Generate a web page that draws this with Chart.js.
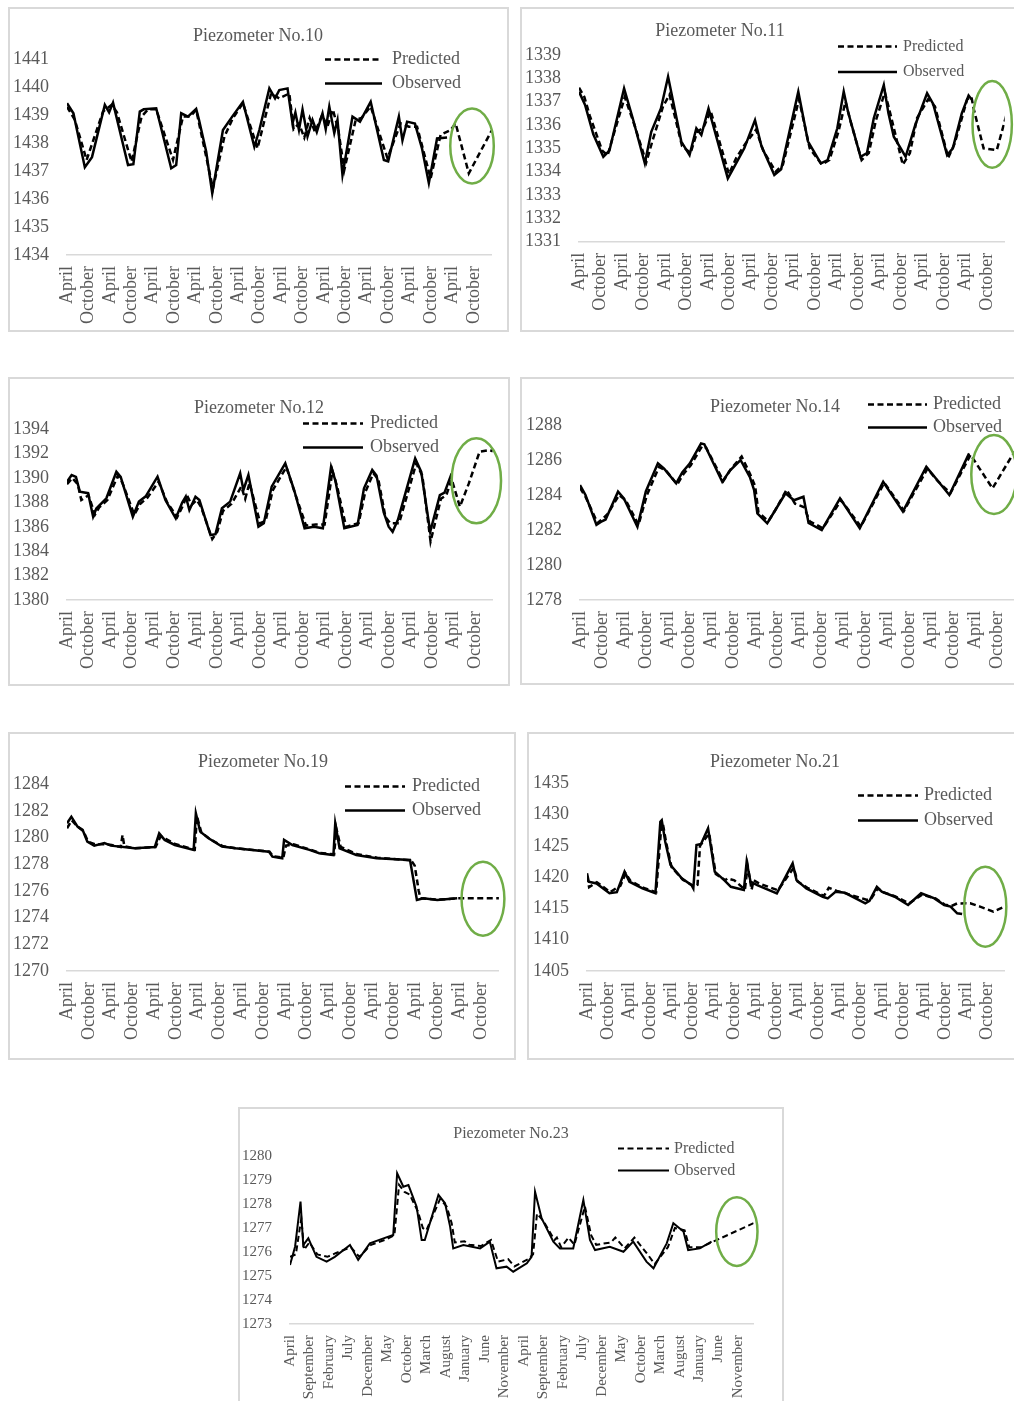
<!DOCTYPE html>
<html lang="en">
<head>
<meta charset="UTF-8">
<title>Piezometers - predicted vs observed</title>
<script src="https://cdn.jsdelivr.net/npm/chart.js@4"></script>
<style>
  html, body { margin: 0; padding: 0; background: #fff; overflow: hidden; }
  body { width: 1014px; height: 1401px; position: relative; }
  .panel { position: absolute; border: 2px solid #d9d9d9; box-sizing: border-box; background: #fff; }
  .panel canvas { display: block; }
</style>
</head>
<body>
<script>
// tick labels
const aprOct = ['April', 'October', 'April', 'October', 'April', 'October', 'April', 'October', 'April', 'October',
  'April', 'October', 'April', 'October', 'April', 'October', 'April', 'October', 'April', 'October']
const every5 = ['April', 'September', 'February', 'July', 'December', 'May', 'October', 'March', 'August', 'January', 'June', 'November',
  'April', 'September', 'February', 'July', 'December', 'May', 'October', 'March', 'August', 'January', 'June', 'November']

// [month index, water level]
const obs10 = [[0,1439.43],[1.8,1439.07],[5,1437.14],[7,1437.5],[10.6,1439.37],[11.8,1439.1],[12.9,1439.45],[17.1,1437.22],[18.6,1437.25],[20.4,1439.13],[21.5,1439.21],[25,1439.25],[29.2,1437.1],[30.6,1437.22],[32,1439.07],[33.9,1438.95],[36.2,1439.23],[37,1438.83],[39,1437.7],[40.7,1436.21],[43.7,1438.47],[46.3,1438.95],[49.3,1439.48],[52.5,1437.87],[53.9,1438.47],[56.7,1439.96],[58.3,1439.6],[59.5,1439.9],[61.8,1439.96],[63.2,1438.71],[64,1439.1],[65,1438.47],[66,1439.2],[67.4,1438.24],[68.8,1438.83],[70,1438.4],[71.6,1439.07],[72.5,1438.5],[73.5,1439.31],[74.9,1438.36],[75.8,1438.83],[77.2,1436.86],[80,1438.95],[82.1,1438.77],[85.1,1439.48],[88.8,1437.4],[90,1437.35],[93,1438.95],[94,1438.1],[95.3,1438.77],[97.5,1438.7],[99.5,1437.8],[101.4,1436.57],[103.7,1438.17],[106.5,1438.2]]
const pred10 = [[0,1439.3],[2.2,1438.83],[5.5,1437.4],[10.1,1439.13],[12.5,1439.37],[14,1439.1],[18.1,1437.34],[20.9,1438.95],[22.7,1439.21],[25,1439.21],[29.7,1437.4],[32.5,1438.95],[34.5,1438.95],[36.2,1439.19],[40.9,1436.38],[44.1,1438.23],[46.5,1438.9],[49.3,1439.43],[53.4,1437.82],[57.2,1439.78],[59.5,1439.6],[62.3,1439.78],[63.5,1438.5],[65,1438.7],[66.5,1438.2],[68,1438.9],[69.5,1438.4],[71.5,1439.0],[73,1438.6],[74.5,1439.2],[76,1438.5],[77.7,1437.04],[80.9,1438.83],[82.5,1438.9],[85.1,1439.31],[89.8,1437.46],[93.5,1438.71],[95.8,1438.59],[98.1,1438.59],[101.9,1436.74],[104.7,1438.3],[107.5,1438.47],[108.9,1438.71],[112.6,1436.92],[119,1438.45]]

const obs11 = [[0,1337.43],[1.7,1336.86],[4,1335.6],[6.8,1334.64],[8.5,1334.9],[12.6,1337.57],[15,1336.3],[18.4,1334.36],[20.2,1335.71],[22.9,1336.71],[24.9,1338.07],[28.6,1335.29],[30.9,1334.71],[32.8,1335.86],[34.2,1335.57],[36.2,1336.71],[41.6,1333.71],[43,1334.1],[46.2,1335.0],[49.2,1336.21],[51,1335.1],[54.6,1333.86],[56.5,1334.1],[61.3,1337.43],[64,1335.3],[67.6,1334.36],[69.5,1334.5],[72.2,1335.86],[74,1337.43],[75.2,1336.57],[78.7,1334.64],[80.5,1334.8],[82.4,1336.29],[85.2,1337.71],[86.5,1336.5],[88,1335.5],[91.3,1334.64],[94,1336.0],[97.3,1337.36],[99,1336.9],[102.9,1334.71],[104.5,1335.0],[107,1336.5],[108.9,1337.26],[109.7,1337.1]]
const pred11 = [[0,1337.6],[1.5,1337.2],[3,1336.4],[6.5,1334.9],[8,1334.7],[9.5,1335.5],[12.8,1337.2],[15.5,1336.0],[18.8,1334.4],[20.5,1335.3],[23.5,1336.8],[25.3,1337.3],[28.8,1335.1],[31.2,1334.8],[33,1335.7],[34.8,1335.9],[36.8,1336.6],[41.9,1333.9],[44,1334.6],[46.5,1335.2],[49.5,1335.8],[51.5,1334.9],[55,1334.0],[57,1334.3],[61.5,1337.1],[64.5,1335.0],[67.9,1334.3],[70,1334.5],[72.5,1335.7],[74.5,1337.0],[76,1336.1],[79,1334.5],[81,1334.8],[83,1336.2],[85.5,1337.4],[87,1336.5],[90.5,1334.3],[92.5,1334.8],[94.5,1336.3],[97.6,1337.1],[99.5,1336.8],[103.2,1334.6],[105,1335.2],[108.5,1337.1],[109.7,1337.2],[110.3,1336.71],[113.1,1335.0],[116.8,1334.93],[119.6,1336.5]]

const obs12 = [[0,1389.7],[1.3,1390.25],[2.5,1390.1],[3.6,1388.88],[5.9,1388.76],[7.3,1386.83],[8.2,1387.5],[11,1388.34],[13.8,1390.52],[15,1390.1],[18.4,1386.83],[20.1,1388.07],[22,1388.5],[25.3,1390.11],[27.5,1388.2],[30.4,1386.7],[32.2,1388.0],[33.2,1388.5],[34.2,1387.38],[35.9,1388.47],[37,1388.2],[40.1,1385.33],[41.5,1385.4],[43.3,1387.52],[45.6,1388.07],[48.4,1390.39],[49.3,1389.02],[50.7,1390.25],[53.5,1386.01],[55,1386.3],[57.2,1389.3],[61,1391.21],[63.5,1389.0],[66.4,1385.88],[69,1386.0],[71.5,1385.88],[73.8,1390.93],[75,1389.8],[77.5,1385.88],[81.2,1386.15],[83,1389.16],[85.3,1390.66],[86.5,1390.2],[88.5,1387.2],[89.9,1386.01],[91,1385.6],[92.5,1386.6],[97.3,1391.62],[99,1390.5],[101.5,1385.6],[104.2,1388.6],[105.5,1388.8],[107.5,1390.39]]
const pred12 = [[0,1389.5],[1.5,1390.0],[3,1389.5],[4,1388.2],[6,1388.6],[7.8,1387.0],[9,1387.6],[11.3,1388.2],[14.2,1390.2],[15.5,1389.6],[18.8,1387.0],[20.5,1387.9],[22.5,1388.4],[25.6,1389.7],[28,1388.0],[30.8,1386.8],[32.5,1387.8],[33.5,1388.6],[34.8,1387.8],[36.3,1388.2],[37.5,1387.6],[40.6,1385.0],[42,1385.6],[43.6,1387.3],[46,1387.9],[48.7,1389.3],[49.8,1388.3],[51,1389.6],[54,1386.3],[55.5,1386.5],[57.5,1389.0],[61.3,1390.9],[64,1388.5],[66.8,1386.1],[69.5,1386.2],[72,1386.2],[74.2,1390.6],[75.5,1389.3],[78,1386.0],[81.5,1386.3],[83.3,1388.8],[85.6,1390.4],[87,1389.9],[89,1386.8],[90.3,1386.3],[92.8,1386.3],[97.6,1391.2],[99.3,1390.2],[101.6,1384.8],[104.5,1388.3],[106,1388.6],[107.5,1389.9],[109.8,1387.65],[112.3,1389.56],[115.3,1392.16],[118.1,1392.3],[119,1392.2]]

const obs14 = [[0,1284.57],[1.5,1284.0],[4.5,1282.29],[6,1282.5],[7,1282.6],[10.4,1284.19],[12,1283.8],[15.7,1282.19],[18,1284.2],[21.3,1285.81],[23,1285.5],[26.3,1284.67],[28,1285.3],[30,1285.8],[33.1,1286.95],[34,1286.9],[38.9,1284.76],[41,1285.4],[43.9,1286.0],[46.5,1285.0],[47.6,1284.29],[48.5,1282.95],[51.2,1282.38],[53,1283.0],[56.2,1284.1],[58.5,1283.7],[61.1,1283.9],[62.5,1282.4],[66.1,1282.0],[71.1,1283.81],[76.5,1282.1],[82.9,1284.76],[88.3,1283.05],[94.7,1285.62],[97.5,1284.9],[101,1284.0],[106.4,1286.38]]
const pred14 = [[0,1284.4],[1.5,1283.9],[4.8,1282.4],[6.5,1282.7],[7.5,1282.9],[10.7,1284.0],[12.5,1283.7],[16,1282.3],[18.3,1284.0],[21.6,1285.6],[23.5,1285.4],[26.6,1284.6],[28.3,1285.2],[30.3,1285.7],[33.4,1286.8],[34.5,1286.7],[39.2,1284.8],[41.3,1285.5],[44.2,1286.2],[46.5,1285.2],[47.9,1284.5],[48.8,1283.0],[51.5,1282.5],[53.3,1283.1],[56.5,1284.3],[58.8,1283.5],[61.3,1283.3],[62.8,1282.5],[66.4,1282.1],[71.4,1283.7],[76.8,1282.2],[83.2,1284.7],[88.6,1283.1],[95,1285.5],[97.8,1284.8],[101.3,1284.1],[106.8,1286.3],[112.8,1284.38],[118,1286.2],[119,1286.5]]

const obs19 = [[0,1281.07],[1.2,1281.57],[2.9,1280.83],[4.3,1280.58],[5.6,1279.7],[7.5,1279.4],[10.3,1279.6],[12.1,1279.4],[18.6,1279.2],[24.2,1279.3],[25.4,1280.32],[26.9,1279.83],[29.7,1279.45],[34.9,1279.08],[35.5,1281.82],[36.7,1280.45],[39,1279.95],[42.7,1279.33],[46.4,1279.2],[55.6,1278.95],[56.6,1278.57],[59.3,1278.45],[59.8,1279.83],[62.1,1279.45],[66.8,1279.08],[69.5,1278.83],[73.4,1278.7],[73.9,1281.07],[75.1,1279.2],[79.7,1278.7],[85.3,1278.45],[94.5,1278.33],[96.4,1275.32],[98.2,1275.45],[102,1275.32],[107.5,1275.45]]
const pred19 = [[0,1280.7],[1.3,1281.3],[3,1280.8],[4.5,1280.5],[5.8,1279.7],[7.7,1279.5],[10.5,1279.5],[12.3,1279.45],[14.8,1279.3],[15.3,1280.2],[15.8,1279.35],[18.8,1279.2],[24.4,1279.3],[25.8,1280.1],[27.2,1279.9],[30,1279.5],[35.2,1279.1],[35.8,1281.6],[37,1280.4],[39.3,1279.9],[43,1279.35],[46.7,1279.2],[55.8,1278.95],[56.8,1278.6],[59.6,1278.5],[60.3,1279.4],[62.4,1279.5],[67,1279.1],[69.8,1278.85],[73.6,1278.75],[74.2,1280.7],[75.4,1279.3],[80,1278.75],[85.5,1278.5],[94.8,1278.3],[95.8,1277.9],[96.9,1276.0],[97.4,1275.45],[102.2,1275.35],[107.5,1275.45],[113,1275.45],[119,1275.45]]

const obs21 = [[0,1420.62],[0.5,1419.27],[2.7,1419.0],[6.4,1417.42],[8.5,1417.6],[10.7,1420.87],[12.1,1419.27],[15.8,1418.2],[19.5,1417.42],[20.9,1428.86],[21.3,1429.1],[22.3,1425.67],[23.8,1421.94],[27,1419.8],[29.8,1418.73],[30.3,1418.2],[31.2,1425.14],[32.5,1425.3],[34.5,1427.81],[36.4,1420.87],[39.1,1419.53],[41,1418.46],[44.7,1417.95],[45.5,1422.47],[46.6,1419.27],[48.5,1418.73],[54.1,1417.42],[58.6,1422.21],[59.7,1419.53],[62.5,1418.2],[67.2,1416.87],[68.6,1416.6],[70.9,1417.68],[73.5,1417.5],[79.3,1415.82],[80.5,1416.2],[82.6,1418.47],[84,1417.68],[87.7,1416.87],[91.5,1415.55],[95.2,1417.42],[99,1416.6],[101.8,1415.55],[103.6,1415.29],[105.5,1414.22],[106.9,1414.1]]
const pred21 = [[0,1420.2],[0.6,1418.4],[2.8,1419.2],[6.6,1417.6],[8.5,1418.3],[9.5,1418.6],[11,1420.6],[12.4,1419.4],[16,1418.3],[19.7,1417.6],[21.2,1428.3],[21.6,1428.6],[22.6,1425.4],[24.1,1421.6],[27.3,1419.6],[30.6,1418.5],[31.5,1418.8],[32.2,1425.0],[34.8,1427.0],[36.7,1420.5],[39.4,1419.5],[40,1419.8],[42,1419.5],[45,1418.0],[45.8,1421.8],[46.9,1418.0],[47.5,1419.5],[49,1419.0],[54.4,1417.9],[58.9,1421.5],[60,1419.3],[62.8,1418.3],[66,1417.4],[67.5,1417.0],[68.9,1418.3],[71.2,1417.8],[73.8,1417.4],[79.6,1416.4],[80.8,1416.4],[82.9,1418.2],[84.3,1417.6],[88,1416.9],[91.8,1415.8],[95.5,1417.2],[99.3,1416.6],[102,1415.6],[103.9,1415.4],[105.5,1415.8],[109.2,1415.82],[112,1415.29],[115.8,1414.5],[119,1415.29]]

const obs23 = [[0,1275.46],[1.3,1276.22],[2.7,1278.1],[3.4,1276.29],[4.7,1276.57],[6.8,1275.8],[9.4,1275.6],[11.5,1275.8],[15.4,1276.29],[17.5,1275.67],[20.5,1276.36],[24,1276.57],[26.5,1276.71],[27.5,1279.28],[29.1,1278.72],[30.4,1278.79],[32.5,1277.89],[33.8,1276.5],[34.6,1276.5],[38.1,1278.38],[39.8,1278.03],[41.1,1277.06],[41.9,1276.15],[44.5,1276.29],[48.8,1276.15],[51.3,1276.43],[53,1275.32],[55.6,1275.39],[57.3,1275.18],[60.8,1275.53],[62,1275.8],[62.9,1278.51],[64.6,1277.4],[67.6,1276.43],[69.3,1276.15],[72.7,1276.15],[75.3,1278.17],[77,1276.5],[78.3,1276.08],[82.1,1276.22],[85.6,1276.01],[88.1,1276.43],[91.5,1275.6],[93.3,1275.32],[96.7,1276.36],[98.4,1277.2],[101,1276.85],[102.2,1276.08],[105.2,1276.15],[108.2,1276.43]]
const pred23 = [[0,1275.8],[1.5,1275.9],[2.9,1277.4],[3.6,1276.1],[5,1276.4],[7,1275.9],[9.6,1275.8],[11.7,1275.95],[15.6,1276.2],[17.8,1275.8],[20.8,1276.3],[24.3,1276.5],[26.8,1276.7],[28,1278.8],[29.4,1278.5],[30.7,1278.4],[32.8,1277.7],[34.1,1277.0],[35,1276.9],[38.5,1278.2],[40.2,1277.9],[41.5,1277.2],[42.3,1276.4],[44.8,1276.45],[46,1276.3],[49,1276.25],[51.6,1276.5],[53.4,1275.6],[56,1275.7],[57.6,1275.4],[61.1,1275.7],[62.4,1275.9],[63.4,1277.6],[65,1277.3],[67.9,1276.5],[68.5,1276.6],[69.6,1276.2],[71.5,1276.6],[73,1276.3],[75.7,1277.9],[77.3,1276.7],[78.6,1276.3],[82.4,1276.4],[83.5,1276.6],[85.9,1276.15],[88.4,1276.6],[91.8,1275.9],[93.6,1275.5],[97,1276.2],[98.8,1277.0],[101.3,1276.9],[102.5,1276.2],[105.5,1276.2],[108.2,1276.4],[119,1277.2]]

// forecast rings: [centre month, centre level, half width (months), half height (level)]
const ring10 = [113.5, 1437.9, 6.1, 1.34]
const ring11 = [115.5, 1336.03, 5.5, 1.86]
const ring12 = [114.4, 1389.78, 6.9, 3.49]
const ring14 = [113.2, 1285.17, 6.2, 2.26]
const ring19 = [114.6, 1275.42, 5.9, 2.78]
const ring21 = [113.5, 1415.28, 6.0, 6.39]
const ring23 = [114.7, 1276.85, 5.3, 1.43]

const textColor = '#595959'
const serif = '"Liberation Serif", "Times New Roman", serif'

// box: [left, top, width, height]; area: [left, top, right, bottom] inside the canvas
const panels = [
  { name: 'Piezometer No.10', obs: obs10, pred: pred10, y: [1434, 1441, 1], labels: aprOct, step: 6, ring: ring10,
    box: [8, 7, 501, 325], area: [57, 50.3, 483, 246], title: [248, 27.5], legend: [315, 50.5, 74.5, 57, 382],
    fs: 18, legendFs: 18, tickFs: 18, lw: 2.5 },
  { name: 'Piezometer No.11', obs: obs11, pred: pred11, y: [1331, 1339, 1], labels: aprOct, step: 6, ring: ring11,
    box: [520, 7, 502, 325], area: [57, 46, 484.2, 232.7], title: [198, 22.5], legend: [316, 37.5, 63, 59, 381],
    fs: 18, legendFs: 16, tickFs: 18, lw: 2.5 },
  { name: 'Piezometer No.12', obs: obs12, pred: pred12, y: [1380, 1394, 2], labels: aprOct, step: 6, ring: ring12,
    box: [8, 377, 502, 309], area: [57, 50.3, 486.6, 221], title: [249, 29], legend: [293, 44.5, 68.5, 60, 360],
    fs: 18, legendFs: 18, tickFs: 18, lw: 2.5 },
  { name: 'Piezometer No.14', obs: obs14, pred: pred14, y: [1278, 1288, 2], labels: aprOct, step: 6, ring: ring14,
    box: [520, 377, 512, 308], area: [58, 46, 495.9, 221], title: [253, 28], legend: [346, 25.5, 48.5, 59, 411],
    fs: 18, legendFs: 18, tickFs: 18, lw: 2.5 },
  { name: 'Piezometer No.19', obs: obs19, pred: pred19, y: [1270, 1284, 2], labels: aprOct, step: 6, ring: ring19,
    box: [8, 732, 508, 328], area: [57, 50.3, 489.6, 237], title: [253, 28], legend: [335, 52.5, 76.5, 60, 402],
    fs: 18, legendFs: 18, tickFs: 18, lw: 2.5 },
  { name: 'Piezometer No.21', obs: obs21, pred: pred21, y: [1405, 1435, 5], labels: aprOct, step: 6, ring: ring21,
    box: [527, 732, 495, 328], area: [58, 49.3, 482.5, 237], title: [246, 28], legend: [329, 61.5, 86.5, 60, 395],
    fs: 18, legendFs: 18, tickFs: 18, lw: 2.5 },
  { name: 'Piezometer No.23', obs: obs23, pred: pred23, y: [1273, 1280, 1], labels: every5, step: 5, ring: ring23,
    box: [238, 1107, 546, 300], area: [50, 47, 513.6, 215], title: [271, 25], legend: [378, 39.5, 61.5, 51, 434],
    fs: 16, legendFs: 16, tickFs: 15, lw: 2 },
]

function toXY(pairs) {
  return pairs.map(([m, v]) => ({ x: m, y: v }))
}

function makeChart(p) {
  const wrap = document.createElement('div')
  wrap.className = 'panel'
  wrap.style.left = p.box[0] + 'px'
  wrap.style.top = p.box[1] + 'px'
  wrap.style.width = p.box[2] + 'px'
  wrap.style.height = p.box[3] + 'px'
  const canvas = document.createElement('canvas')
  const W = p.box[2] - 4
  const H = p.box[3] - 4
  canvas.width = W
  canvas.height = H
  canvas.style.width = W + 'px'
  canvas.style.height = H + 'px'
  wrap.appendChild(canvas)
  document.body.appendChild(wrap)

  const [aLeft, aTop, aRight, aBottom] = p.area
  const dash = [6, 3.5]

  // title, legend and the green ring round the forecast
  const decor = {
    id: 'decor',
    afterDraw(chart) {
      const ctx = chart.ctx
      const xs = chart.scales.x
      const ys = chart.scales.y
      ctx.save()
      ctx.fillStyle = textColor
      ctx.textBaseline = 'middle'
      ctx.textAlign = 'center'
      ctx.font = p.fs + 'px ' + serif
      ctx.fillText(p.name, p.title[0], p.title[1])

      const [lx, ly1, ly2, len, tx] = p.legend
      ctx.strokeStyle = '#000'
      ctx.lineWidth = p.lw
      ctx.setLineDash(dash)
      ctx.beginPath(); ctx.moveTo(lx, ly1); ctx.lineTo(lx + len, ly1); ctx.stroke()
      ctx.setLineDash([])
      ctx.beginPath(); ctx.moveTo(lx, ly2); ctx.lineTo(lx + len, ly2); ctx.stroke()
      ctx.textAlign = 'left'
      ctx.font = p.legendFs + 'px ' + serif
      ctx.fillText('Predicted', tx, ly1)
      ctx.fillText('Observed', tx, ly2)

      const [rm, rv, rdm, rdv] = p.ring
      const cx = xs.getPixelForValue(rm)
      const cy = ys.getPixelForValue(rv)
      const rx = xs.getPixelForValue(rm + rdm) - cx
      const ry = cy - ys.getPixelForValue(rv + rdv)
      ctx.strokeStyle = '#70ad47'
      ctx.lineWidth = 2.5
      ctx.beginPath()
      ctx.ellipse(cx, cy, rx, ry, 0, 0, Math.PI * 2)
      ctx.stroke()
      ctx.restore()
    },
  }

  return new Chart(canvas, {
    type: 'line',
    data: {
      datasets: [
        { label: 'Predicted', data: toXY(p.pred), borderColor: '#000', borderWidth: p.lw, borderDash: dash,
          pointRadius: 0, tension: 0, fill: false },
        { label: 'Observed', data: toXY(p.obs), borderColor: '#000', borderWidth: p.lw,
          pointRadius: 0, tension: 0, fill: false },
      ],
    },
    options: {
      responsive: false,
      animation: false,
      devicePixelRatio: 1,
      layout: { padding: { left: 0, top: aTop, right: W - aRight, bottom: 0 } },
      plugins: { legend: { display: false }, tooltip: { enabled: false }, title: { display: false } },
      scales: {
        x: {
          type: 'linear',
          min: 0,
          max: 119,
          grid: { display: false, drawTicks: false },
          border: { display: true, color: '#d9d9d9', width: 1.5 },
          ticks: {
            autoSkip: false,
            minRotation: 90,
            maxRotation: 90,
            padding: 11,
            color: textColor,
            font: { family: serif, size: p.tickFs },
            callback: (v, i) => p.labels[i],
          },
          afterBuildTicks: (s) => { s.ticks = p.labels.map((_, i) => ({ value: i * p.step })) },
          afterFit: (s) => { s.height = H - aBottom },
        },
        y: {
          min: p.y[0],
          max: p.y[1],
          grid: { display: false, drawTicks: false },
          border: { display: false },
          ticks: {
            stepSize: p.y[2],
            autoSkip: false,
            padding: 18,
            color: textColor,
            font: { family: serif, size: p.tickFs },
            callback: (v) => String(v),
          },
          afterFit: (s) => { s.width = aLeft },
        },
      },
    },
    plugins: [decor],
  })
}

panels.forEach(makeChart)
</script>
</body>
</html>
